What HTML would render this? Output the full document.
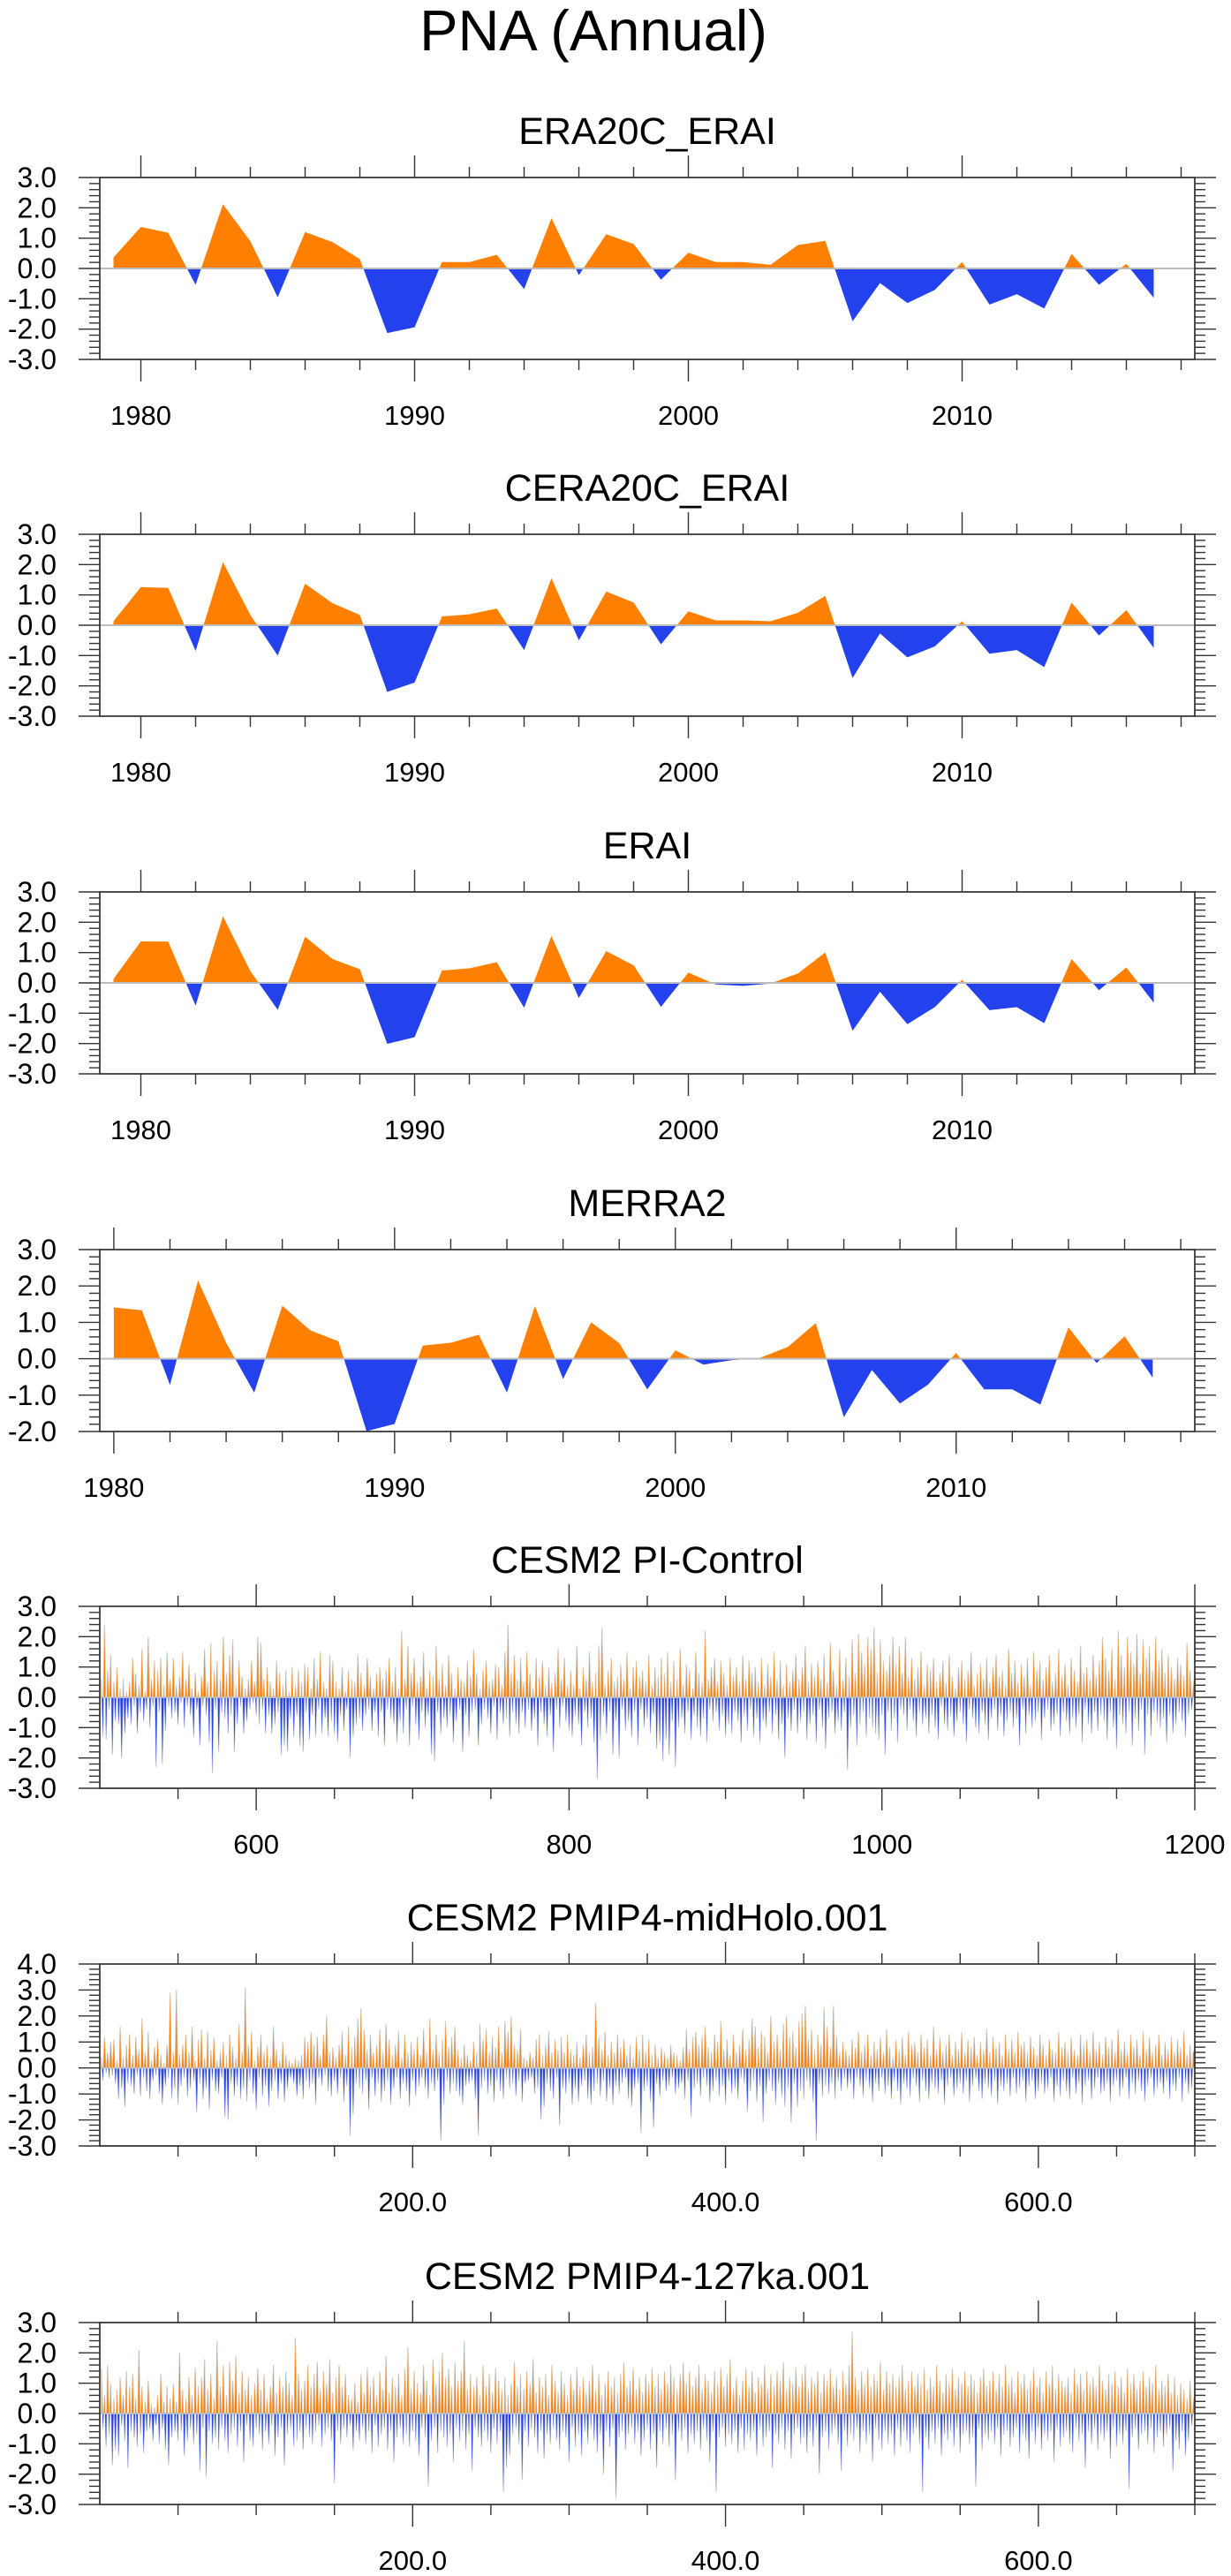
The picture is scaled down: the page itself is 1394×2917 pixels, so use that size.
<!DOCTYPE html>
<html><head><meta charset="utf-8"><title>PNA (Annual)</title>
<style>
html,body{margin:0;padding:0;background:#fff;}
svg{display:block;font-family:"Liberation Sans",Arial,sans-serif;}
</style></head>
<body>
<svg id="chart" width="1394" height="2917" viewBox="0 0 1394 2917" xmlns="http://www.w3.org/2000/svg">
<rect x="0" y="0" width="1394" height="2917" fill="#fff"/>
<text x="672" y="57" font-size="65" text-anchor="middle" fill="#000">PNA (Annual)</text>
</svg>
<script>
// ---------- data ----------
const yearsReanalysis = [];
for (let y = 1979; y <= 2017; y++) yearsReanalysis.push(y);
const yearsMerra = [];
for (let y = 1980; y <= 2017; y++) yearsMerra.push(y);

const era20cEraiValues = [0.36,1.37,1.18,-0.54,2.12,0.9,-0.95,1.2,0.87,0.31,-2.13,-1.94,0.21,0.21,0.45,-0.68,1.66,-0.22,1.13,0.81,-0.37,0.52,0.21,0.21,0.12,0.77,0.91,-1.74,-0.48,-1.14,-0.71,0.21,-1.19,-0.85,-1.32,0.48,-0.54,0.15,-0.97];
const cera20cEraiValues = [0.13,1.26,1.23,-0.85,2.08,0.34,-1.0,1.37,0.73,0.34,-2.2,-1.89,0.29,0.36,0.55,-0.82,1.55,-0.5,1.11,0.75,-0.63,0.46,0.16,0.16,0.13,0.41,0.97,-1.74,-0.27,-1.06,-0.7,0.13,-0.94,-0.82,-1.38,0.75,-0.34,0.5,-0.75];
const eraiValues = [0.13,1.37,1.36,-0.75,2.2,0.39,-0.89,1.52,0.79,0.45,-2.01,-1.79,0.41,0.48,0.68,-0.82,1.55,-0.5,1.05,0.58,-0.79,0.34,-0.05,-0.1,-0.02,0.31,1.0,-1.58,-0.29,-1.36,-0.8,0.1,-0.9,-0.8,-1.33,0.79,-0.24,0.51,-0.65];
const merra2Values = [1.41,1.33,-0.72,2.15,0.44,-0.93,1.46,0.78,0.48,-1.99,-1.79,0.36,0.44,0.66,-0.93,1.45,-0.56,1.0,0.43,-0.84,0.23,-0.16,-0.04,0.02,0.32,0.98,-1.61,-0.31,-1.23,-0.71,0.16,-0.84,-0.84,-1.26,0.86,-0.12,0.62,-0.52];

// CESM2 PI-Control, years 501..1200
const piControlValues = [
0.6,-1.3,2.4,-1.4,0.9,-0.4,1.4,-1.9,0.5,-0.8,
1.0,-0.9,0.3,-2.0,0.6,-1.2,0.2,-0.7,0.5,-0.9,
1.3,-0.3,0.8,-1.2,0.4,-0.5,1.6,-0.8,0.2,-0.4,
2.0,-1.0,0.6,-0.3,1.2,-2.3,0.9,-0.5,1.3,-2.2,
0.4,-1.1,1.5,-0.3,0.6,-0.7,1.3,-0.5,0.4,-0.9,
0.7,-0.2,1.5,-1.0,0.6,-0.3,1.1,-0.6,0.3,-1.3,
0.8,-0.4,0.2,-1.6,0.7,-0.3,1.6,-0.6,0.5,-1.5,
1.8,-2.5,0.9,-0.4,1.2,-1.8,0.6,-0.5,2.0,-0.7,
0.8,-1.2,1.4,-0.6,1.9,-1.8,0.4,-0.9,1.2,-0.3,
0.7,-1.2,0.3,-0.8,0.6,-0.4,1.2,-0.2,0.5,-0.6,
2.0,-0.9,1.8,-0.4,0.6,-1.2,1.0,-0.6,0.5,-1.2,
0.3,-0.9,1.2,-0.5,0.8,-1.9,0.4,-1.6,0.9,-1.8,
0.2,-0.7,1.0,-1.3,0.4,-0.6,0.9,-1.6,0.5,-1.8,
1.1,-0.5,1.0,-1.4,0.3,-0.6,1.3,-1.3,0.6,-0.4,
1.5,-1.2,0.5,-0.7,0.3,-1.3,1.4,-0.8,1.2,-1.2,
0.5,-1.5,0.3,-0.6,1.0,-1.1,0.2,-0.4,0.9,-2.0,
0.6,-1.3,0.5,-0.9,1.4,-0.7,0.8,-1.1,0.4,-0.6,
1.3,-0.4,0.7,-1.1,0.3,-0.5,0.8,-1.3,1.0,-0.5,
0.6,-1.6,0.9,-0.4,1.3,-0.7,0.5,-0.9,1.0,-1.5,
0.3,-0.8,2.2,-1.2,0.6,-0.4,1.7,-1.6,0.8,-0.3,
1.3,-0.9,0.5,-1.4,0.7,-0.5,1.5,-1.0,0.3,-0.6,
0.9,-1.9,0.7,-2.1,1.7,-0.5,0.6,-1.2,1.1,-0.7,
0.4,-1.0,1.4,-0.6,0.8,-1.5,0.3,-0.8,1.0,-0.4,
0.6,-1.8,0.5,-0.6,1.2,-1.3,0.7,-0.5,1.6,-0.4,
0.8,-1.6,0.3,-0.9,0.9,-0.4,1.2,-0.7,0.5,-1.2,
0.6,-0.3,1.1,-1.4,1.0,-0.5,0.4,-0.9,1.5,-0.7,
2.4,-1.3,0.8,-0.5,1.4,-0.9,0.6,-1.2,1.3,-0.5,
0.5,-1.0,1.5,-0.4,0.8,-1.1,0.3,-0.7,1.3,-1.6,
0.7,-0.5,1.2,-0.9,0.4,-1.3,1.0,-0.6,0.5,-1.8,
0.8,-0.4,1.6,-1.0,0.6,-0.3,1.3,-0.8,0.4,-1.1,
0.9,-1.3,0.4,-0.6,1.7,-0.9,0.3,-1.6,1.0,-0.5,
0.6,-1.0,1.5,-0.7,0.5,-1.5,0.8,-2.7,1.7,-1.4,
2.3,-0.6,0.4,-1.2,0.9,-0.5,1.3,-1.9,0.5,-0.8,
0.7,-2.0,1.1,-0.4,0.6,-1.1,1.5,-0.8,0.3,-1.3,
1.0,-0.5,1.2,-1.6,0.7,-0.4,0.9,-1.0,0.5,-0.7,
1.4,-1.2,0.4,-0.6,1.0,-1.7,0.7,-1.5,1.3,-2.1,
0.8,-1.4,1.5,-1.9,0.5,-0.8,1.2,-2.3,0.6,-1.0,
1.6,-0.7,0.4,-1.2,1.1,-0.5,0.9,-1.4,0.3,-0.6,
1.5,-1.0,0.8,-1.3,0.5,-0.7,2.2,-1.5,0.6,-0.4,
1.0,-0.8,1.3,-0.5,0.5,-1.1,1.2,-0.6,0.8,-1.3,
0.4,-0.9,1.3,-1.2,0.7,-0.5,1.0,-0.8,0.5,-1.5,
1.4,-0.6,0.6,-1.1,1.2,-0.4,0.8,-1.3,1.0,-0.7,
0.5,-1.5,1.3,-0.8,0.4,-1.0,1.1,-0.5,0.7,-1.2,
1.5,-0.6,0.6,-1.4,1.2,-0.9,0.4,-2.0,1.1,-0.7,
0.5,-1.1,0.9,-0.4,1.4,-1.2,0.6,-0.8,1.0,-0.5,
1.7,-1.4,0.5,-0.9,1.1,-0.6,0.7,-1.5,1.2,-0.4,
0.6,-1.0,1.4,-1.7,0.5,-0.7,1.8,-0.5,0.9,-1.2,
0.4,-0.8,1.6,-1.1,0.6,-0.5,1.3,-2.4,0.7,-1.0,
1.9,-0.6,0.8,-1.6,2.1,-0.9,1.5,-0.5,1.1,-1.3,
2.0,-0.7,1.6,-1.0,2.3,-1.2,0.8,-1.4,1.9,-0.6,
1.2,-1.9,0.9,-0.5,1.4,-1.1,2.0,-0.7,1.1,-1.5,
1.7,-0.4,0.8,-0.6,2.0,-1.1,0.7,-0.4,1.3,-0.8,
0.6,-1.3,1.0,-0.5,1.5,-0.9,0.4,-0.7,1.1,-1.2,
0.9,-0.6,1.3,-1.0,0.5,-1.4,0.8,-0.3,1.2,-0.9,
0.5,-1.1,1.4,-0.6,0.7,-1.3,0.3,-0.8,1.0,-0.5,
1.2,-0.9,0.6,-1.5,0.9,-0.4,1.5,-0.7,0.4,-1.0,
0.8,-1.2,1.1,-0.5,0.6,-0.9,1.3,-1.4,0.5,-0.7,
1.0,-0.4,1.4,-1.1,0.7,-0.6,0.9,-1.3,0.4,-0.8,
1.6,-0.5,0.8,-1.0,1.2,-0.7,0.5,-1.6,1.1,-0.4,
0.7,-1.2,1.3,-0.6,0.4,-1.0,1.5,-0.8,0.9,-0.5,
1.2,-1.4,0.6,-0.7,1.0,-0.4,1.4,-1.1,0.5,-0.9,
0.8,-0.6,1.6,-1.3,0.7,-0.5,1.1,-0.8,0.4,-1.2,
1.3,-0.7,0.9,-1.0,0.5,-0.6,1.7,-1.5,0.8,-0.4,
1.0,-0.9,0.6,-1.2,1.4,-0.5,0.7,-1.1,1.2,-0.6,
2.0,-0.8,1.3,-1.4,0.9,-0.5,1.6,-1.0,0.6,-1.7,
2.2,-0.6,1.4,-0.9,1.0,-1.2,2.0,-0.5,1.5,-1.6,
1.1,-0.7,2.1,-1.1,0.8,-0.4,1.9,-1.9,1.3,-0.6,
1.7,-1.3,0.9,-0.5,2.0,-0.8,1.2,-1.0,1.6,-0.7,
0.8,-1.5,1.4,-0.6,1.0,-1.2,0.6,-0.9,1.3,-0.5,
1.1,-0.8,0.7,-1.3,1.8,-0.6,0.9,-0.4,0.3,0.8];

// CESM2 PMIP4-midHolo.001, years 1..700
const midHoloValues = [
0.4,-0.5,1.2,-0.2,0.6,-0.4,1.0,-0.3,1.1,-0.6,
0.3,-1.2,1.6,-0.8,0.4,-1.5,0.9,-0.6,1.3,-0.7,
0.5,-1.0,1.2,-0.3,0.7,-1.1,1.9,-0.4,0.6,-0.9,
1.4,-1.2,0.3,-0.5,0.8,-0.3,1.1,-1.0,0.5,-1.4,
0.2,-0.7,0.9,-0.4,2.9,-1.2,0.6,-0.8,3.0,-1.4,
0.5,-0.7,0.9,-0.4,1.3,-1.1,0.6,-0.8,1.6,-0.5,
0.3,-1.7,1.1,-0.6,1.5,-1.2,0.4,-0.8,1.4,-1.6,
0.7,-0.5,1.2,-0.9,0.3,-1.0,0.6,-0.4,1.0,-1.9,
0.5,-2.0,1.3,-0.6,0.8,-1.1,0.4,-0.7,1.7,-1.2,
0.6,-0.8,3.1,-1.3,0.9,-0.5,1.4,-1.0,0.3,-1.6,
0.8,-0.4,1.3,-1.1,0.6,-0.7,0.9,-1.5,0.4,-0.9,
1.6,-0.5,0.7,-1.2,0.3,-0.6,1.0,-1.3,0.5,-0.8,
0.3,-0.4,0.2,-0.6,0.4,-1.1,0.3,-0.7,0.5,-1.2,
1.2,-0.5,1.0,-0.8,1.4,-0.6,0.9,-1.4,1.2,-0.4,
0.5,-0.7,1.3,-0.3,2.0,-0.9,0.6,-1.1,0.8,-0.5,
0.4,-1.0,0.9,-0.4,1.4,-1.3,0.5,-0.7,1.6,-2.6,
0.8,-1.8,1.2,-0.6,1.9,-0.8,2.3,-1.0,1.5,-0.5,
0.7,-1.6,1.3,-0.4,0.6,-1.1,0.9,-0.6,1.5,-1.3,
0.6,-0.9,1.7,-0.5,1.1,-1.4,0.5,-0.8,0.9,-0.4,
1.4,-1.2,0.4,-0.6,1.3,-0.9,0.6,-1.5,1.0,-0.5,
0.7,-1.1,1.2,-0.7,0.5,-0.4,1.5,-0.8,0.6,-1.2,
1.9,-0.6,0.7,-0.9,1.3,-0.5,0.6,-2.8,1.1,-1.4,
1.8,-0.5,0.8,-1.0,1.2,-0.6,1.6,-0.9,0.7,-1.1,
0.4,-1.4,0.9,-0.7,0.5,-0.6,0.3,-0.5,1.0,-1.2,
0.6,-2.6,1.7,-0.8,1.1,-0.5,1.5,-1.0,0.6,-0.7,
1.2,-1.3,0.8,-0.5,1.6,-0.9,0.6,-1.2,1.8,-0.4,
1.4,-0.8,2.0,-0.6,0.9,-1.1,0.7,-0.5,1.5,-1.3,
0.4,-0.6,0.3,-0.5,0.6,-0.4,0.4,-1.0,1.1,-0.8,
1.3,-2.0,0.5,-1.5,0.9,-0.6,1.4,-0.9,0.6,-1.2,
1.1,-0.4,0.7,-2.2,1.2,-0.8,0.6,-1.0,1.3,-0.6,
0.7,-1.4,0.5,-0.8,1.0,-1.3,0.4,-0.7,0.9,-0.5,
1.3,-1.2,0.6,-1.4,0.8,-0.9,2.5,-0.6,1.2,-1.1,
0.7,-0.5,1.4,-1.3,0.5,-0.8,1.0,-1.4,0.6,-0.7,
1.3,-1.0,0.8,-0.6,1.1,-0.4,0.5,-1.2,0.9,-1.5,
0.4,-0.8,1.2,-0.6,0.7,-2.5,1.3,-0.9,0.6,-0.7,
1.1,-1.3,0.5,-2.3,0.9,-0.6,0.4,-1.1,0.8,-0.5,
0.6,-0.9,0.4,-0.7,0.9,-0.4,0.6,-1.0,0.5,-0.8,
0.3,-0.6,0.8,-1.2,1.5,-0.5,0.7,-1.9,1.2,-0.8,
1.4,-0.6,0.9,-1.1,1.2,-0.4,1.6,-0.7,0.8,-1.3,
0.6,-0.9,1.3,-0.5,1.0,-1.1,1.8,-0.7,0.7,-1.4,
1.1,-0.5,0.5,-1.0,1.3,-0.8,0.6,-1.2,0.9,-0.4,
1.5,-0.6,0.7,-1.7,1.1,-0.9,1.9,-0.5,1.6,-1.3,
0.8,-0.7,1.4,-2.1,1.2,-1.0,0.6,-0.5,2.0,-0.9,
1.0,-1.4,1.3,-0.6,0.7,-1.1,1.7,-1.5,2.0,-0.8,
1.2,-2.1,1.4,-0.6,0.8,-1.5,1.8,-0.9,2.1,-1.2,
2.4,-0.5,1.1,-0.8,1.5,-1.3,0.7,-2.8,1.3,-0.6,
0.9,-1.1,2.3,-0.7,1.6,-1.0,0.8,-0.6,2.4,-1.2,
1.2,-0.5,0.6,-0.9,1.0,-0.4,0.7,-0.8,0.5,-0.6,
1.1,-1.2,0.8,-0.4,1.4,-0.7,0.6,-1.1,0.9,-0.5,
1.3,-0.8,0.5,-1.3,1.0,-0.6,0.7,-0.9,1.2,-0.4,
0.6,-1.0,1.5,-0.7,0.8,-1.2,0.4,-0.5,1.1,-0.9,
0.7,-1.4,1.2,-0.6,0.5,-0.8,1.4,-1.1,0.9,-0.4,
1.0,-0.7,0.6,-1.3,1.3,-0.5,0.8,-0.9,1.1,-1.2,
0.5,-0.6,1.6,-0.8,0.7,-1.0,1.2,-0.5,0.6,-1.4,
0.9,-0.7,1.3,-0.4,0.5,-1.1,1.0,-0.8,0.7,-0.6,
1.4,-1.0,0.6,-0.5,1.1,-1.3,0.8,-0.7,1.2,-0.4,
0.5,-0.9,1.0,-1.2,0.7,-0.6,1.5,-0.8,0.6,-1.1,
1.2,-0.5,0.8,-1.4,1.0,-0.7,0.5,-0.9,1.3,-0.6,
0.7,-1.1,1.1,-0.4,0.6,-1.0,1.4,-0.8,0.9,-0.5,
1.0,-1.3,0.6,-0.7,1.2,-0.5,0.8,-1.2,0.5,-0.9,
1.3,-0.6,0.9,-1.0,0.5,-0.8,1.1,-0.4,0.7,-1.3,
0.6,-0.7,1.4,-1.1,0.8,-0.5,1.0,-0.9,0.6,-1.2,
1.2,-0.4,0.7,-1.0,0.5,-0.6,1.3,-1.4,0.9,-0.7,
1.1,-0.5,0.6,-1.2,1.4,-0.8,0.7,-0.4,1.0,-1.0,
0.5,-0.9,1.2,-0.6,0.8,-1.3,1.1,-0.7,0.6,-0.5,
1.5,-1.1,0.7,-0.8,1.0,-0.4,0.6,-1.2,1.3,-0.6,
0.8,-1.0,1.1,-0.5,0.5,-0.9,1.4,-1.3,0.7,-0.7,
1.2,-0.4,0.6,-1.1,0.9,-0.8,1.3,-0.6,0.5,-1.0,
1.0,-0.5,0.7,-1.2,1.2,-0.7,0.6,-0.9,1.1,-0.4,
0.8,-1.3,1.4,-0.6,0.5,-1.0,0.9,-0.8,0.6,0.7];

// CESM2 PMIP4-127ka.001, years 1..700
const ka127Values = [
1.5,-0.5,0.6,-1.1,1.6,-0.7,1.0,-1.7,0.5,-1.2,
0.8,-1.4,1.2,-0.4,0.6,-0.9,1.4,-1.8,0.9,-0.6,
1.3,-0.8,0.5,-1.1,2.1,-0.7,0.9,-1.3,0.4,-0.6,
1.1,-0.5,0.3,-0.9,0.2,-0.4,0.6,-1.0,1.3,-0.5,
0.4,-1.2,0.9,-1.7,0.5,-0.8,1.0,-0.6,0.4,-0.9,
2.0,-0.6,0.8,-1.4,0.5,-0.9,1.2,-0.5,0.6,-1.0,
1.5,-0.7,0.9,-1.9,1.2,-0.5,1.8,-2.1,0.8,-0.6,
1.3,-1.0,0.5,-0.8,2.4,-1.2,0.9,-0.5,1.6,-0.9,
0.6,-1.3,1.7,-0.7,1.1,-0.5,1.9,-1.1,0.7,-0.6,
1.4,-1.6,0.8,-0.4,1.2,-0.9,0.6,-1.1,1.0,-0.5,
1.5,-0.7,0.8,-1.2,1.3,-0.6,0.5,-1.0,0.9,-0.4,
1.6,-1.4,0.7,-0.8,1.2,-0.5,0.9,-1.7,1.4,-0.7,
1.0,-0.5,0.6,-1.1,2.5,-0.9,1.3,-0.6,0.8,-1.2,
1.1,-0.5,1.6,-0.8,0.9,-1.0,1.3,-0.6,1.7,-0.4,
0.8,-1.1,1.4,-0.7,1.0,-0.5,1.8,-0.9,0.7,-2.3,
1.2,-0.6,1.6,-1.0,0.9,-0.5,1.3,-0.8,0.6,-0.4,
0.5,-1.2,1.0,-0.6,0.4,-0.9,1.3,-0.5,0.7,-1.0,
1.5,-0.6,0.9,-1.3,1.2,-0.4,0.6,-1.1,1.4,-0.7,
0.8,-0.5,1.9,-1.2,0.7,-0.6,1.2,-1.6,0.9,-0.8,
1.3,-0.5,0.6,-1.0,1.5,-0.7,2.2,-1.1,0.8,-0.6,
1.4,-0.9,1.0,-1.4,0.7,-0.5,1.6,-0.8,1.1,-2.4,
0.6,-0.9,1.8,-0.5,1.0,-1.3,1.4,-0.6,2.0,-0.8,
1.2,-1.1,1.5,-0.7,0.9,-1.6,1.7,-0.5,1.1,-0.9,
1.4,-0.6,2.4,-1.2,0.8,-0.7,1.3,-1.9,0.9,-0.5,
1.2,-0.8,0.6,-1.1,1.6,-0.6,0.9,-0.9,1.3,-1.3,
0.7,-0.5,1.5,-1.0,1.1,-0.6,0.8,-2.6,1.2,-1.8,
0.6,-1.4,1.0,-0.7,1.7,-0.5,0.9,-1.0,1.3,-2.2,
0.8,-0.6,1.4,-1.1,1.0,-0.5,1.8,-0.8,0.7,-1.3,
1.2,-0.6,0.9,-1.5,1.3,-0.7,0.6,-1.0,1.6,-0.5,
1.1,-0.9,0.7,-1.2,1.4,-0.6,1.0,-0.8,0.6,-1.6,
1.3,-0.5,0.8,-1.1,1.5,-0.7,0.9,-1.4,1.2,-0.6,
0.7,-1.0,1.1,-0.5,1.6,-0.9,0.8,-1.3,1.3,-0.7,
0.6,-2.0,1.0,-0.6,1.4,-1.1,0.9,-0.5,1.2,-2.8,
0.7,-0.8,1.3,-0.6,1.7,-1.2,0.9,-0.7,1.1,-0.5,
1.5,-1.0,0.8,-0.6,1.2,-1.4,0.7,-0.9,1.3,-0.5,
1.0,-1.2,1.5,-0.7,0.9,-1.8,1.3,-0.6,0.8,-1.0,
1.4,-0.5,1.0,-1.1,1.6,-0.7,1.2,-2.2,0.8,-0.6,
1.3,-0.9,1.7,-0.5,1.0,-1.3,1.4,-0.7,0.9,-1.0,
1.2,-0.6,1.6,-1.2,0.8,-0.5,1.3,-0.9,1.1,-1.6,
0.7,-0.6,1.4,-2.6,1.0,-0.8,1.5,-0.5,0.9,-1.1,
1.3,-0.7,1.8,-1.0,0.8,-0.6,1.2,-1.3,0.6,-0.5,
1.1,-1.2,1.5,-0.7,0.9,-0.9,1.4,-0.6,0.7,-1.4,
1.2,-0.5,1.0,-1.1,1.6,-0.8,0.8,-0.6,1.3,-1.8,
0.9,-0.7,1.4,-1.0,1.1,-0.5,1.7,-1.2,0.8,-0.6,
1.2,-1.5,1.0,-0.7,1.5,-0.5,0.9,-1.0,1.3,-0.8,
1.6,-1.3,0.8,-0.6,1.2,-1.1,1.0,-0.5,1.4,-2.0,
0.7,-0.8,1.3,-0.6,1.1,-1.2,1.5,-0.7,0.9,-0.5,
1.2,-1.0,0.8,-1.9,1.4,-0.6,1.0,-1.1,1.6,-0.7,
2.7,-0.9,1.2,-0.5,0.8,-1.3,1.4,-0.6,1.0,-1.0,
1.5,-0.7,0.9,-1.6,1.3,-0.5,1.1,-0.9,1.7,-1.2,
0.8,-0.6,1.4,-1.0,1.0,-0.7,1.3,-1.4,0.9,-0.5,
1.2,-1.1,1.6,-0.6,0.8,-0.9,1.1,-1.3,1.4,-0.7,
0.9,-0.5,1.3,-1.0,1.0,-2.6,1.5,-0.8,0.8,-1.2,
1.2,-0.6,0.9,-1.0,1.6,-0.5,1.1,-1.4,0.7,-0.7,
1.3,-0.9,1.0,-0.6,1.5,-1.1,0.8,-0.5,1.2,-1.3,
1.0,-0.7,1.4,-0.6,0.9,-1.0,1.3,-0.8,1.1,-2.4,
0.7,-0.5,1.2,-1.2,1.5,-0.7,0.9,-0.9,1.1,-0.6,
1.4,-1.0,0.8,-0.5,1.3,-1.4,0.9,-0.7,1.6,-0.6,
1.0,-1.1,1.2,-0.8,0.7,-0.5,1.4,-1.3,1.0,-0.7,
1.3,-0.9,0.8,-1.5,1.1,-0.6,1.5,-1.0,0.9,-0.5,
1.2,-1.2,0.7,-0.7,1.4,-0.9,1.0,-0.6,1.6,-1.6,
0.8,-0.5,1.3,-1.1,1.1,-0.8,0.9,-0.6,1.2,-1.0,
0.7,-1.3,1.5,-0.5,1.0,-0.9,1.3,-0.7,0.8,-1.8,
1.4,-0.6,1.0,-1.0,1.2,-0.5,0.9,-1.2,1.6,-0.7,
1.1,-0.9,0.8,-0.6,1.3,-1.5,1.0,-0.5,1.4,-1.1,
0.9,-0.7,1.2,-1.0,0.7,-0.6,1.5,-2.5,1.0,-0.8,
1.3,-0.5,0.8,-1.2,1.1,-0.7,1.4,-0.6,0.9,-1.0,
1.2,-0.5,1.0,-1.3,1.6,-0.8,0.8,-0.6,1.1,-1.1,
0.9,-0.7,1.3,-0.5,0.7,-1.9,1.2,-0.9,0.6,-1.2,
1.0,-0.6,0.8,-1.4,0.5,-0.9,1.1,-0.4,0.3,0.7];

const yearsPi = piControlValues.map((v, i) => 501 + i);
const yearsMid = midHoloValues.map((v, i) => 1 + i);
const yearsKa = ka127Values.map((v, i) => 1 + i);

const yTicksStd = [3, 2, 1, 0, -1, -2, -3];
const yTicksMerra = [3, 2, 1, 0, -1, -2];
const yTicksMid = [4, 3, 2, 1, 0, -1, -2, -3];
const xTicksYears = [1980, 1990, 2000, 2010];
const xTicksPi = [600, 800, 1000, 1200];
const xTicksModel = [200, 400, 600];

// ---------- drawing ----------
const NS = 'http://www.w3.org/2000/svg';
const svg = document.getElementById('chart');
const LEFT = 113, RIGHT = 1353, PH = 206;
const ORANGE = '#FF8000', BLUE = '#2441EE';

function mk(tag, attrs, parent) {
  const e = document.createElementNS(NS, tag);
  for (const k in attrs) e.setAttribute(k, attrs[k]);
  (parent || svg).appendChild(e);
  return e;
}

function drawPanel(p, idx) {
  const top = p.top, bot = top + PH;
  const g = mk('g', {});
  
  
  const xs = v => LEFT + (v - p.x0) / (p.x1 - p.x0) * (RIGHT - LEFT);
  const ys = v => top + (p.y1 - v) / (p.y1 - p.y0) * PH;
  const y0 = ys(0);

  const t = mk('text', {x: (LEFT + RIGHT) / 2, y: top - 38, 'font-size': 43, 'text-anchor': 'middle', fill: '#000'}, g);
  
  
  t.textContent = p.title;

  // clip paths
  const defs = mk('defs', {}, g);
  const cpA = mk('clipPath', {id: 'ca' + idx}, defs);
  mk('rect', {x: LEFT, y: top, width: RIGHT - LEFT, height: y0 - top}, cpA);
  const cpB = mk('clipPath', {id: 'cb' + idx}, defs);
  mk('rect', {x: LEFT, y: y0, width: RIGHT - LEFT, height: bot - y0}, cpB);

  const xsD = p.xs, vals = p.vals;
  let pts = xs(xsD[0]).toFixed(2) + ',' + y0.toFixed(2) + ' ';
  let line = '';
  for (let i = 0; i < vals.length; i++) {
    const pt = xs(xsD[i]).toFixed(2) + ',' + ys(vals[i]).toFixed(2) + ' ';
    pts += pt; line += pt;
  }
  pts += xs(xsD[xsD.length - 1]).toFixed(2) + ',' + y0.toFixed(2);

  if (p.outline) {
    const pl = mk('polyline', {points: line, fill: 'none', stroke: '#d0d0d0', 'stroke-width': 1.2}, g);
    
    
  }
  const pa = mk('polygon', {points: pts, fill: ORANGE, 'clip-path': 'url(#ca' + idx + ')'}, g);
  
  
  const pb = mk('polygon', {points: pts, fill: BLUE, 'clip-path': 'url(#cb' + idx + ')'}, g);
  
  

  const zl = mk('line', {x1: LEFT, x2: RIGHT, y1: y0, y2: y0, stroke: '#bdbdbd', 'stroke-width': 2}, g);
  
  

  const fr = mk('rect', {x: LEFT, y: top, width: RIGHT - LEFT, height: PH, fill: 'none', stroke: '#222', 'stroke-width': 1.6}, g);
  
  

  // y ticks
  const tk = mk('g', {stroke: '#333', 'stroke-width': 1.4}, g);
  
  
  for (let v = p.y0; v <= p.y1 + 1e-6; v += 0.2) {
    const yy = ys(v);
    const major = Math.abs(v - Math.round(v)) < 1e-6;
    mk('line', {x1: LEFT - (major ? 24 : 12), x2: LEFT, y1: yy, y2: yy}, tk);
    mk('line', {x1: RIGHT, x2: RIGHT + (major ? 24 : 12), y1: yy, y2: yy}, tk);
  }
  p.yTicks.forEach(v => {
    const lt = mk('text', {x: 64, y: ys(v) + 11, 'font-size': 32, 'text-anchor': 'end', fill: '#000'}, g);
    
    
    lt.textContent = v.toFixed(1);
  });
  // x ticks
  for (let v = p.minorStart; v <= p.x1; v += p.minorStep) {
    const xx = xs(v);
    if (xx < LEFT - 0.5 || xx > RIGHT + 0.5) continue;
    const major = p.xTicks.indexOf(v) >= 0;
    const L = major ? 25 : 12;
    mk('line', {x1: xx, x2: xx, y1: top - L, y2: top}, tk);
    mk('line', {x1: xx, x2: xx, y1: bot, y2: bot + L}, tk);
  }
  p.xTicks.forEach(v => {
    const lt = mk('text', {x: xs(v), y: top + 280, 'font-size': 31, 'text-anchor': 'middle', fill: '#000'}, g);
    
    
    lt.textContent = p.xFmt(v);
  });
}

const intFmt = v => String(v);
const decFmt = v => v.toFixed(1);
const panels = [
  {name: 'era20c-erai', title: 'ERA20C_ERAI', top: 201, x0: 1978.5, x1: 2018.5, y0: -3, y1: 3, xs: yearsReanalysis, vals: era20cEraiValues, yTicks: yTicksStd, xTicks: xTicksYears, minorStart: 1980, minorStep: 2, xFmt: intFmt},
  {name: 'cera20c-erai', title: 'CERA20C_ERAI', top: 605, x0: 1978.5, x1: 2018.5, y0: -3, y1: 3, xs: yearsReanalysis, vals: cera20cEraiValues, yTicks: yTicksStd, xTicks: xTicksYears, minorStart: 1980, minorStep: 2, xFmt: intFmt},
  {name: 'erai', title: 'ERAI', top: 1010, x0: 1978.5, x1: 2018.5, y0: -3, y1: 3, xs: yearsReanalysis, vals: eraiValues, yTicks: yTicksStd, xTicks: xTicksYears, minorStart: 1980, minorStep: 2, xFmt: intFmt},
  {name: 'merra2', title: 'MERRA2', top: 1415, x0: 1979.5, x1: 2018.5, y0: -2, y1: 3, xs: yearsMerra, vals: merra2Values, yTicks: yTicksMerra, xTicks: xTicksYears, minorStart: 1980, minorStep: 2, xFmt: intFmt},
  {name: 'cesm2-pi-control', title: 'CESM2 PI-Control', top: 1819, x0: 500, x1: 1200, y0: -3, y1: 3, xs: yearsPi, vals: piControlValues, yTicks: yTicksStd, xTicks: xTicksPi, minorStart: 550, minorStep: 50, xFmt: intFmt, outline: true},
  {name: 'cesm2-midholo', title: 'CESM2 PMIP4-midHolo.001', top: 2224, x0: 0, x1: 700, y0: -3, y1: 4, xs: yearsMid, vals: midHoloValues, yTicks: yTicksMid, xTicks: xTicksModel, minorStart: 50, minorStep: 50, xFmt: decFmt, outline: true},
  {name: 'cesm2-127ka', title: 'CESM2 PMIP4-127ka.001', top: 2630, x0: 0, x1: 700, y0: -3, y1: 3, xs: yearsKa, vals: ka127Values, yTicks: yTicksStd, xTicks: xTicksModel, minorStart: 50, minorStep: 50, xFmt: decFmt, outline: true}
];
panels.forEach((p, i) => drawPanel(p, i));
</script>
</body></html>
